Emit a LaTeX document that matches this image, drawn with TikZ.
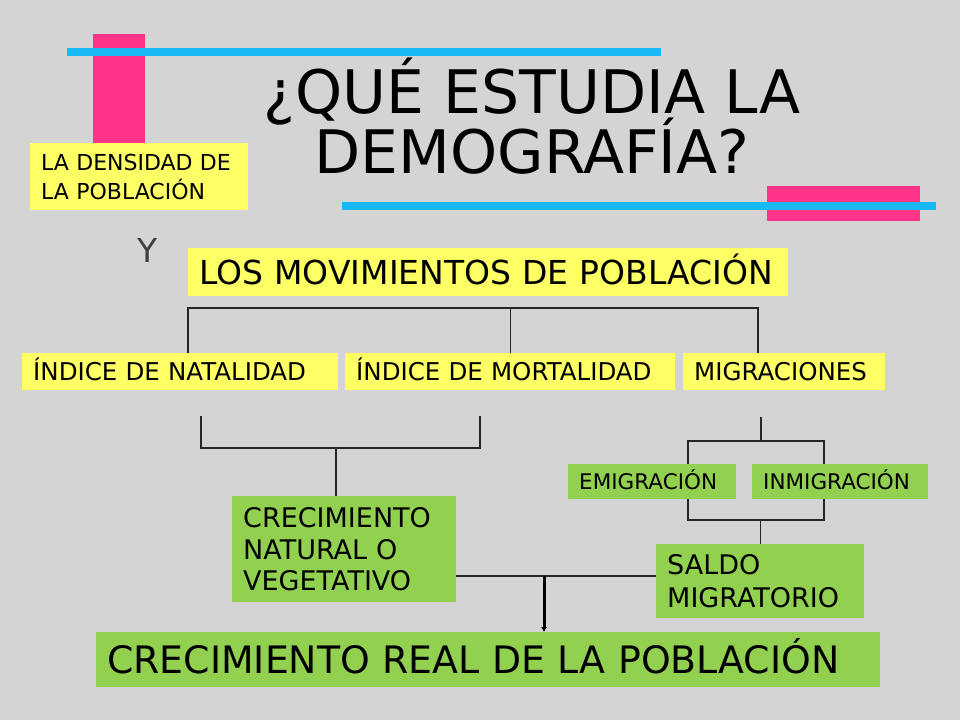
\documentclass[tikz,border=0pt]{standalone}
\usepackage{fontspec}
\setmainfont{DejaVu Sans}
\usepackage{tikz}
\usetikzlibrary{shapes,arrows,arrows.meta,positioning}

\definecolor{fondo}{RGB}{212,212,212}
\definecolor{rosa}{RGB}{255,51,136}
\definecolor{celeste}{RGB}{25,185,245}
\definecolor{amarillo}{RGB}{255,255,102}
\definecolor{verde}{RGB}{146,208,80}
\definecolor{gristexto}{RGB}{64,64,64}
\newcommand{\apretado}{\lineskiplimit=-100pt\relax\lineskip=0pt\relax}

\begin{document}
\begin{tikzpicture}[x=1pt, y=-1pt,
	caja/.style={anchor=north west, inner xsep=11pt, inner ysep=0pt, align=left},
	amar/.style={caja, fill=amarillo},
	verd/.style={caja, fill=verde},
	linea/.style={line width=1.2pt, draw=black!85}]
				\useasboundingbox (0,0) rectangle (960,720);
				\fill [fondo] (0,0) rectangle (960,720);
				\fill [rosa] (93,34) rectangle (145,143);
				\fill [rosa] (767,186) rectangle (920,221);
				\fill [celeste] (67,48) rectangle (661,56);
				\fill [celeste] (342,202) rectangle (936,210);

				\node (titulo) [anchor=base, align=center, inner sep=0pt, font=\fontsize{60}{60}\selectfont\apretado] at (532,173) {¿QUÉ ESTUDIA LA\\DEMOGRAFÍA?};
				\node (dens) [amar, text width=196pt, minimum height=67pt, font=\fontsize{22}{29.3}\selectfont] at (30,143) {LA DENSIDAD DE\\LA POBLACIÓN};
				\node (y) [anchor=base west, inner sep=0pt, text=gristexto, font=\fontsize{33}{33}\selectfont] at (137,262) {Y};
				\node (mov) [amar, text width=578pt, minimum height=48pt, text height=24pt, text depth=0pt, font=\fontsize{33}{33}\selectfont] at (188,248) {LOS MOVIMIENTOS DE POBLACIÓN};

				\node (nat) [amar, text width=294pt, minimum height=37pt, text height=17.9pt, text depth=0pt, font=\fontsize{24.5}{29}\selectfont] at (22,353) {ÍNDICE DE NATALIDAD};
				\node (mort) [amar, text width=308pt, minimum height=37pt, text height=17.9pt, text depth=0pt, font=\fontsize{24.5}{29}\selectfont] at (345,353) {ÍNDICE DE MORTALIDAD};
				\node (mig) [amar, text width=180pt, minimum height=37pt, text height=17.9pt, text depth=0pt, font=\fontsize{24.5}{29}\selectfont] at (683,353) {MIGRACIONES};

				\node (emig) [verd, text width=146pt, minimum height=35pt, text height=15.7pt, text depth=0pt, font=\fontsize{21.5}{26}\selectfont] at (568,464) {EMIGRACIÓN};
				\node (inmig) [verd, text width=154pt, minimum height=35pt, text height=15.7pt, text depth=0pt, font=\fontsize{21.5}{26}\selectfont] at (752,464) {INMIGRACIÓN};
				\node (crec) [verd, text width=202pt, minimum height=106pt, font=\fontsize{27}{31.7}\selectfont] at (232,496) {CRECIMIENTO\\NATURAL O\\VEGETATIVO};
				\node (saldo) [verd, text width=186pt, minimum height=74pt, font=\fontsize{27}{32.7}\selectfont] at (656,544) {SALDO\\MIGRATORIO};
				\node (real) [verd, text width=762pt, minimum height=55pt, text height=27.5pt, text depth=0pt, font=\fontsize{37.8}{38}\selectfont] at (96,632) {CRECIMIENTO REAL DE LA POBLACIÓN};

				\coordinate (b1) at (188,308);
				\coordinate (b2) at (758,308);
				\draw [linea] (nat.north -| b1) -- (b1) -- (b2) -- (mig.north -| b2);
				\draw [linea] (mort.north) -- (mort.north |- b1);

				\coordinate (n1) at (201,416);
				\coordinate (n2) at (480,416);
				\coordinate (nb) at (336,448);
				\draw [linea] (n1) |- (nb) -| (n2);
				\draw [linea] (nb) -- (nb |- crec.north);

				\coordinate (mt) at (761,417);
				\coordinate (m1) at (688,441);
				\coordinate (m2) at (824,520);
				\draw [linea] (mt) -- (mt |- m1);
				\draw [linea] (m1 |- emig.north) -- (m1) -- (m2 |- m1) -- (m2 |- inmig.north);
				\draw [linea] (m1 |- emig.south) |- (m2) -- (m2 |- inmig.south);
				\draw [linea] (saldo.north) -- (saldo.north |- m2);

				\coordinate (jn) at (544,576);
				\draw [linea] (crec.east |- jn) -- (saldo.west |- jn);
				\draw [-{Latex[length=5pt,width=6pt]}] [line width=3pt, draw=black] (jn) -- (jn |- real.north);
\end{tikzpicture}
\end{document}
